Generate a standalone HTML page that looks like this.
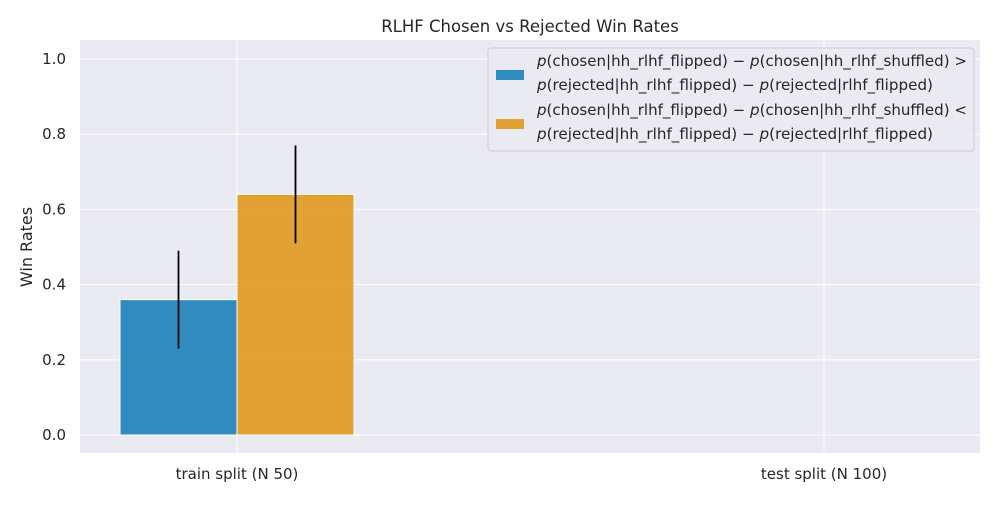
<!DOCTYPE html>
<html><head><meta charset="utf-8"><style>
body{margin:0;background:#fff;}
svg{font-family:"DejaVu Sans","Liberation Sans",sans-serif;}
</style></head><body>
<svg id="chart" width="1000" height="500">
<rect x="80" y="40" width="900" height="413" fill="#eaeaf2"/>
<g id="grid"></g>
<g id="bars"></g>
<g id="axes"></g>
<text x="530" y="32" text-anchor="middle" font-size="16.5" fill="#262626">RLHF Chosen vs Rejected Win Rates</text>
<text transform="translate(32,247) rotate(-90)" text-anchor="middle" font-size="16" fill="#262626">Win Rates</text>
<g>
<rect x="488" y="48" width="486" height="103" rx="3" fill="#eaeaf2" fill-opacity="0.8" stroke="#cccccc"/>
<rect x="496" y="70" width="28" height="10" fill="#0173b2" fill-opacity="0.8"/>
<text x="537" y="66" font-size="15" textLength="430" lengthAdjust="spacingAndGlyphs" fill="#262626"><tspan font-style="italic">p</tspan>(chosen|hh_rlhf_flipped) − <tspan font-style="italic">p</tspan>(chosen|hh_rlhf_shuffled) &gt;</text>
<text x="537" y="90" font-size="15" textLength="396" lengthAdjust="spacingAndGlyphs" fill="#262626"><tspan font-style="italic">p</tspan>(rejected|hh_rlhf_flipped) − <tspan font-style="italic">p</tspan>(rejected|rlhf_flipped)</text>
<rect x="496" y="119" width="28" height="10" fill="#de8f05" fill-opacity="0.8"/>
<text x="537" y="115" font-size="15" textLength="430" lengthAdjust="spacingAndGlyphs" fill="#262626"><tspan font-style="italic">p</tspan>(chosen|hh_rlhf_flipped) − <tspan font-style="italic">p</tspan>(chosen|hh_rlhf_shuffled) &lt;</text>
<text x="537" y="139" font-size="15" textLength="396" lengthAdjust="spacingAndGlyphs" fill="#262626"><tspan font-style="italic">p</tspan>(rejected|hh_rlhf_flipped) − <tspan font-style="italic">p</tspan>(rejected|rlhf_flipped)</text>
</g>
</svg>
<script>
const categories = ["train split (N 50)", "test split (N 100)"];
const greaterValues = [0.36, 0];
const greaterErrors = [0.13, 0];
const lessValues = [0.64, 0];
const lessErrors = [0.13, 0];
const yTicks = [0.0, 0.2, 0.4, 0.6, 0.8, 1.0];

const NS = "http://www.w3.org/2000/svg";
const y = v => 435 - v * 376;
const xc = i => 237 + i * 587;
const bw = 117;
function mk(tag, attrs, parent, text) {
  const e = document.createElementNS(NS, tag);
  for (const k in attrs) e.setAttribute(k, attrs[k]);
  if (text !== undefined) e.textContent = text;
  document.getElementById(parent).appendChild(e);
  return e;
}
yTicks.forEach((t, i) => {
  const g = mk("line", {x1: 80, x2: 980, y1: y(t), y2: y(t), stroke: "#fff", "stroke-width": 1}, "grid");
  
  
  const l = mk("text", {x: 66, y: y(t) + 5, "text-anchor": "end", "font-size": 15, fill: "#262626"}, "axes", t.toFixed(1));
  
  
});
categories.forEach((c, i) => {
  const g = mk("line", {x1: xc(i), x2: xc(i), y1: 40, y2: 453, stroke: "#fff", "stroke-width": 1}, "grid");
  
  
  const l = mk("text", {x: xc(i), y: 479, "text-anchor": "middle", "font-size": 15, fill: "#262626"}, "axes", c);
  
  
  const series = [[greaterValues, greaterErrors, "#0173b2", -bw], [lessValues, lessErrors, "#de8f05", 0]];
  series.forEach((s, j) => {
    const v = s[0][i];
    const b = mk("rect", {x: xc(i) + s[3], y: Math.min(y(v), y(0)), width: bw, height: Math.abs(y(0) - y(v)), fill: s[2], "fill-opacity": 0.8, stroke: "#fff", "stroke-width": 1}, "bars");
    
    
    const e = s[1][i];
    if (e > 0) {
      const el = mk("line", {x1: xc(i) + s[3] + bw / 2, x2: xc(i) + s[3] + bw / 2, y1: y(v + e), y2: y(v - e), stroke: "#000", "stroke-width": 1.8}, "bars");
      
      
    }
  });
});
</script>
</body></html>
